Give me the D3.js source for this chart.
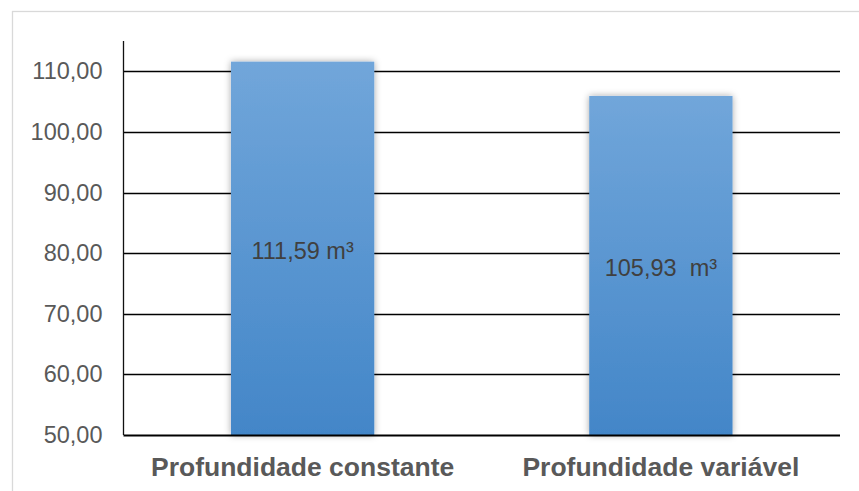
<!DOCTYPE html>
<html><head><meta charset="utf-8">
<script src="https://cdn.jsdelivr.net/npm/d3@7"></script>
<style>body{margin:0;background:#fff}svg{display:block}</style>
</head><body>
<script>
const categories = ["Profundidade constante", "Profundidade variável"];
const values = [111.59, 105.93];
const barLabels = ["111,59 m³", "105,93  m³"];
const ticks = [50, 60, 70, 80, 90, 100, 110];

const W = 859, H = 491;
const svg = d3.select("body").append("svg").attr("width", W).attr("height", H);

// outer border
svg.append("rect").attr("x", 12.5).attr("y", 11.5).attr("width", 870).attr("height", 500)
  .attr("fill", "none").attr("stroke", "#d9d9d9").attr("stroke-width", 1.3);

const defs = svg.append("defs");
const grad = defs.append("linearGradient").attr("id", "g").attr("x1", 0).attr("y1", 0).attr("x2", 0).attr("y2", 1);
grad.append("stop").attr("offset", "0%").attr("stop-color", "#71a6da");
grad.append("stop").attr("offset", "100%").attr("stop-color", "#4386c8");
const f = defs.append("filter").attr("id", "sh").attr("x", "-20%").attr("y", "-20%").attr("width", "140%").attr("height", "140%");
f.append("feDropShadow").attr("dx", 0).attr("dy", 0).attr("stdDeviation", 3.5).attr("flood-color", "#000").attr("flood-opacity", 0.35);

const pLeft = 123.5, pRight = 840, pTop = 41, pBottom = 435;
const y = d3.scaleLinear().domain([50, 115]).range([pBottom, pTop]);
const x = d3.scaleBand().domain(categories).range([pLeft, pRight]).paddingInner(0.6).paddingOuter(0.3);

// gridlines
svg.append("g").selectAll("line").data(ticks.filter(t => t > 50)).join("line")
  .attr("x1", pLeft).attr("x2", pRight)
  .attr("y1", d => Math.round(y(d)) + 0.5).attr("y2", d => Math.round(y(d)) + 0.5)
  .attr("stroke", "#000").attr("stroke-width", 1.6);

// y axis
const yAxis = d3.axisLeft(y).tickValues(ticks).tickSize(0).tickPadding(21)
  .tickFormat(d => d3.format(".2f")(d).replace(".", ","));
const gy = svg.append("g").attr("transform", `translate(${pLeft},0)`).call(yAxis);
gy.select(".domain").remove();
gy.selectAll("text").attr("font-family", "Liberation Sans, Arial, sans-serif")
  .attr("font-size", 23.5).attr("fill", "#595959");
svg.append("line").attr("x1", pLeft).attr("x2", pLeft).attr("y1", pTop).attr("y2", pBottom)
  .attr("stroke", "#111").attr("stroke-width", 1.3);

// bars
const data = categories.map((c, i) => ({c, v: values[i], l: barLabels[i]}));
svg.append("g").selectAll("rect").data(data).join("rect")
  .attr("x", d => x(d.c)).attr("width", x.bandwidth())
  .attr("y", d => y(d.v)).attr("height", d => pBottom - y(d.v))
  .attr("fill", "url(#g)").attr("filter", "url(#sh)");

// bottom axis line
svg.append("line").attr("x1", pLeft).attr("x2", pRight).attr("y1", pBottom + 0.5).attr("y2", pBottom + 0.5)
  .attr("stroke", "#000").attr("stroke-width", 2.2);

// bar labels
svg.append("g").selectAll("text").data(data).join("text")
  .attr("x", d => x(d.c) + x.bandwidth() / 2)
  .attr("y", d => (y(d.v) + pBottom) / 2 + 2)
  .attr("dy", "0.35em").attr("text-anchor", "middle")
  .attr("font-family", "Liberation Sans, Arial, sans-serif").attr("font-size", 23.5)
  .attr("fill", "#404040").style("white-space", "pre").text(d => d.l);

// category labels
svg.append("g").selectAll("text").data(categories).join("text")
  .attr("x", d => x(d) + x.bandwidth() / 2).attr("y", 476)
  .attr("text-anchor", "middle")
  .attr("font-family", "Liberation Sans, Arial, sans-serif").attr("font-size", 26.5)
  .attr("font-weight", "bold").attr("fill", "#595959").text(d => d);
</script>
</body></html>
